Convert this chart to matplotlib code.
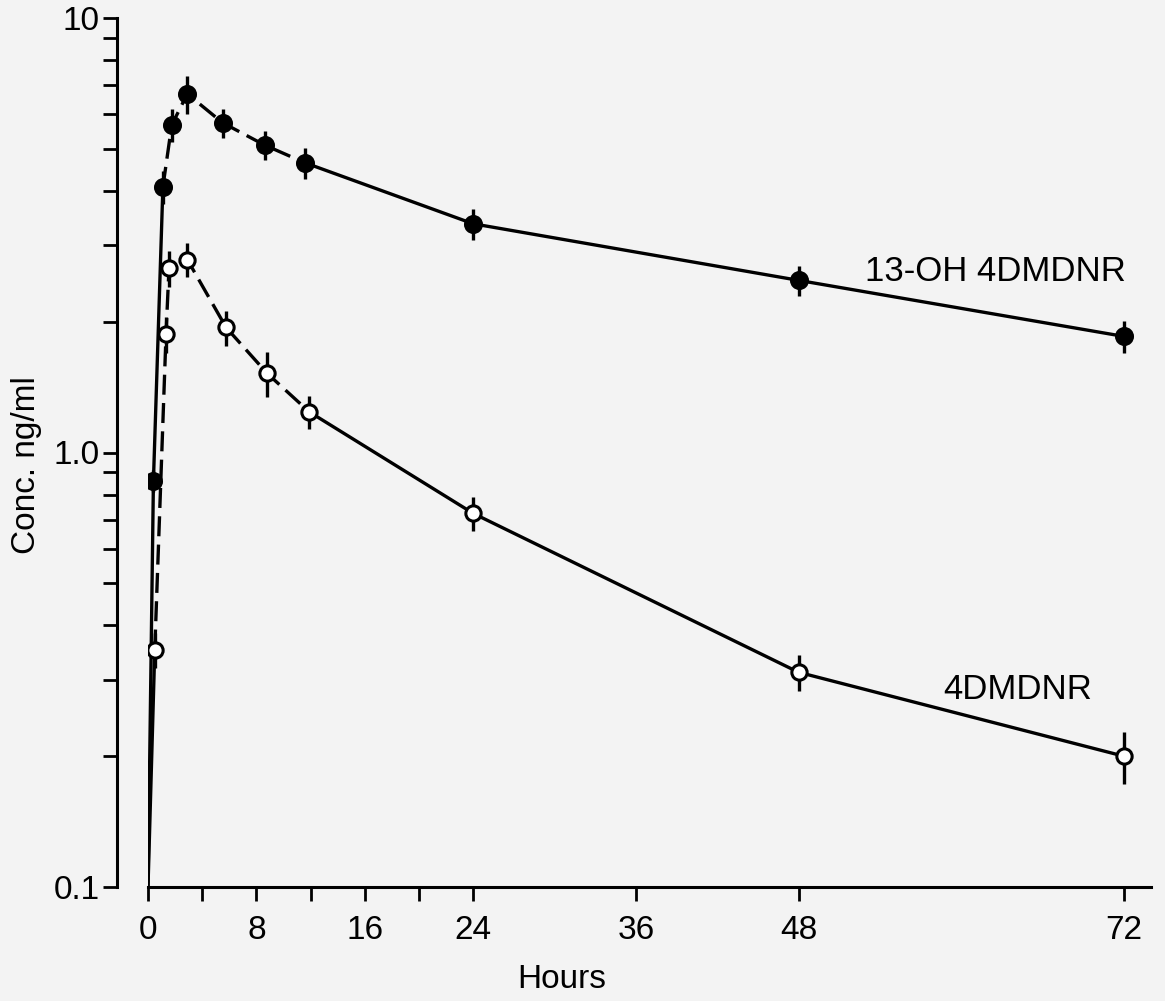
import matplotlib
matplotlib.use("Agg")
import matplotlib.pyplot as plt
from matplotlib.ticker import FixedLocator, NullFormatter, FixedFormatter

# ---- data ----
# 13-OH 4DMDNR (filled circles)
t_oh = [0.4, 1.1, 1.75, 2.9, 5.5, 8.6, 11.6, 24, 48, 72]
c_oh = [0.86, 4.09, 5.67, 6.69, 5.74, 5.1, 4.64, 3.36, 2.49, 1.85]
e_oh = [0.05, 0.35, 0.5, 0.68, 0.45, 0.4, 0.37, 0.27, 0.2, 0.16]

# 4DMDNR (open circles)
t_dm = [0.5, 1.33, 1.55, 2.9, 5.76, 8.8, 11.9, 24, 48, 72]
c_dm = [0.352, 1.87, 2.66, 2.78, 1.94, 1.52, 1.24, 0.724, 0.312, 0.2]
e_dm = [0.033, 0.18, 0.25, 0.25, 0.18, 0.18, 0.11, 0.065, 0.03, 0.027]

# pre-dose level (lower limit of the axis)
t0, c0 = 0.0, 0.1

x_major = [0, 8, 16, 24, 36, 48, 72]
x_minor = [4, 12, 20]
y_major = [0.1, 1.0, 10]
y_major_labels = ["0.1", "1.0", "10"]
y_minor = [0.2, 0.3, 0.4, 0.5, 0.6, 0.7, 0.8, 0.9, 2, 3, 4, 5, 6, 7, 8, 9]

label_oh = "13-OH 4DMDNR"
label_dm = "4DMDNR"

# ---- figure ----
plt.rcParams['font.family'] = ['Liberation Sans', 'DejaVu Sans']
bg = '#f3f3f3'
fig = plt.figure(figsize=(11.65, 10.01), dpi=100, facecolor=bg)
ax = fig.add_axes([148/1165, 1 - 887/1001, (1151-148)/1165, (887-18)/1001])
ax.set_facecolor(bg)
ax.set_yscale('log')
ax.set_xlim(0, 74)
ax.set_ylim(0.1, 10)

lw = 2.4
dash = (6, 2.5)

def draw_series(t, c, e, filled, split_first):
    ts = [t0] + t[:split_first + 1]
    cs = [c0] + c[:split_first + 1]
    ax.plot(ts, cs, color='black', lw=lw, solid_capstyle='butt', zorder=2)
    i12 = 6
    ax.plot(t[split_first:i12 + 1], c[split_first:i12 + 1], color='black', lw=lw,
            dashes=dash, zorder=2)
    ax.plot(t[i12:], c[i12:], color='black', lw=lw, zorder=2)
    ax.errorbar(t, c, yerr=e, fmt='none', ecolor='black', elinewidth=2.4,
                capsize=0, zorder=3)
    ax.plot(t, c, linestyle='none', marker='o', markersize=11.5 if filled else 11,
            markerfacecolor='black' if filled else 'white',
            markeredgecolor='black', markeredgewidth=2.2, zorder=4)

draw_series(t_oh, c_oh, e_oh, True, 1)
draw_series(t_dm, c_dm, e_dm, False, 0)

ax.spines['top'].set_visible(False)
ax.spines['right'].set_visible(False)
ax.spines['left'].set_position(('outward', 22))
for s in ('left', 'bottom'):
    ax.spines[s].set_linewidth(2.2)

ax.xaxis.set_major_locator(FixedLocator(x_major))
ax.xaxis.set_minor_locator(FixedLocator(x_minor))
ax.yaxis.set_major_locator(FixedLocator(y_major))
ax.yaxis.set_major_formatter(FixedFormatter(y_major_labels))
ax.yaxis.set_minor_locator(FixedLocator(y_minor))
ax.yaxis.set_minor_formatter(NullFormatter())

ax.tick_params(axis='both', which='both', direction='out', length=10, width=2.0,
               labelsize=24, pad=3)
ax.tick_params(axis='x', which='major', pad=10)

ax.set_xlabel('Hours', fontsize=24, va='center')
ax.xaxis.set_label_coords((562-148)/1003, -(980-887)/869)
ax.set_ylabel('Conc. ng/ml', fontsize=24, va='center')
ax.yaxis.set_label_coords((27-148)/1003, (887-465)/869)

ax.text(52.9, 2.61, label_oh, fontsize=25, va='center', ha='left')
ax.text(58.7, 0.285, label_dm, fontsize=25, va='center', ha='left')

fig.savefig('out.png', dpi=100, facecolor=bg)
